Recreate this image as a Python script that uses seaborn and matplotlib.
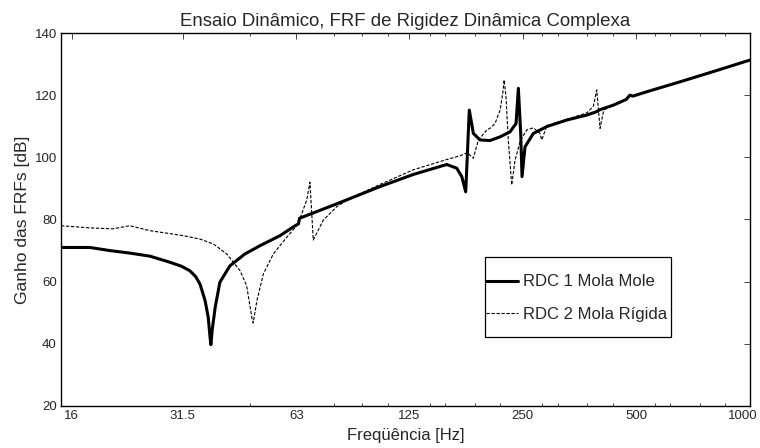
import numpy as np
import pandas as pd
import matplotlib
matplotlib.use("Agg")
import matplotlib.pyplot as plt
import matplotlib.transforms as mtransforms
from matplotlib.patches import Rectangle
import seaborn as sns
from matplotlib.ticker import FixedLocator, NullFormatter

# Curva 1: RDC 1 Mola Mole
freq_mole = [15, 17.9, 20.2, 22.8, 25.8, 29.2, 31.2, 32.9, 34.1, 35.0, 36.1, 36.8,
             37.2, 37.4, 37.7, 38.4, 39.5, 42.0, 46.0, 50.5, 57.0, 62.5, 63.8,
             64.2, 80, 104.9, 128.5, 157.5, 167.4, 172.6, 176.8, 180.7, 185.2,
             192.9, 205, 218, 231.6, 240.3, 243.7, 247.2, 249.2, 253.8, 267,
             289.8, 327.4, 369.8, 392.9, 400, 435, 470, 481, 490, 533, 653, 800,
             1000]
ganho_mole = [71.0, 71.0, 70.0, 69.2, 68.2, 66.2, 65.0, 63.5, 61.6, 59.2, 53.9, 48.5,
              42.2, 39.7, 44.5, 51.8, 59.8, 65.1, 68.9, 71.6, 74.8, 78.0, 78.6,
              80.4, 84.9, 90.6, 94.5, 97.7, 96.5, 93.8, 88.9, 115.2, 107.7,
              105.6, 105.4, 106.6, 108.2, 110.9, 122.2, 107.7, 93.8, 103.4, 107.7,
              109.9, 112.0, 113.6, 114.7, 115.3, 116.8, 118.6, 120.0, 119.7, 121.1,
              124.3, 127.6, 131.3]

# Curva 2: RDC 2 Mola Rigida
freq_rigida = [15, 17.9, 20.6, 22.8, 25.8, 28.6, 31.6, 35.0, 38.0, 41.2, 44.7, 46.5,
               48.0, 48.4, 49.5, 51.5, 54.7, 59.4, 63.1, 63.7, 67.1, 68.4, 69.8,
               74.2, 80.5, 87.3, 105, 128.5, 157.5, 170.8, 178.5, 185.2, 191, 196,
               201, 206, 211.4, 218, 221.6, 223.4, 226, 229.2, 234, 238.8, 247,
               256.5, 267, 278, 281, 290, 327, 370, 385, 392.9, 401, 410, 435,
               481, 533, 653, 800, 1000]
ganho_rigida = [78.0, 77.3, 77.0, 78.0, 76.4, 75.6, 74.8, 73.7, 72.1, 68.9, 63.5, 58.7,
                48.5, 46.7, 53.9, 62.5, 68.9, 74.3, 78.0, 78.8, 86.3, 92.0, 73.4,
                79.8, 84.1, 86.8, 91.3, 96.0, 99.3, 100.5, 101.5, 99.7, 105.6, 107.2,
                108.8, 109.5, 110.9, 115.2, 120.6, 124.9, 119.5, 105.6, 91.1, 99.1, 105.6,
                108.8, 109.5, 107.7, 105.6, 110.2, 112.2, 114.3, 116.5, 121.7, 109.3, 115.2, 116.9,
                119.4, 121.2, 124.4, 127.8, 131.3]

xticks = [16, 31.5, 63, 125, 250, 500, 1000]
xtick_labels = ["16", "31.5", "63", "125", "250", "500", "1000"]
minor_x = [47.5, 79.4, 93.8, 110, 142, 156, 187, 218, 281, 311, 370, 435,
           561, 614, 738, 859]

df1 = pd.DataFrame({"f": freq_mole, "g": ganho_mole})
df2 = pd.DataFrame({"f": freq_rigida, "g": ganho_rigida})

sns.set_style("white")
plt.rcParams["font.family"] = ["Liberation Sans", "DejaVu Sans"]

fig = plt.figure(figsize=(7.6, 4.48), dpi=100)
ax = fig.add_axes([0.0803, 0.0938, 0.9065, 0.8325])

sns.lineplot(data=df1, x="f", y="g", ax=ax, color="black", linewidth=2.2,
             estimator=None, sort=False, label="RDC 1 Mola Mole")
sns.lineplot(data=df2, x="f", y="g", ax=ax, color="black", linewidth=0.8,
             estimator=None, sort=False, label="RDC 2 Mola Rígida",
             dashes=False)
ax.lines[1].set_dashes((3, 1.5))

ax.set_xscale("log")
ax.set_xlim(15, 1000)
ax.set_ylim(20, 140)
ax.set_xticks(xticks)
ax.set_xticklabels(xtick_labels)
ax.xaxis.set_minor_locator(FixedLocator(minor_x))
ax.xaxis.set_minor_formatter(NullFormatter())
ax.set_yticks(np.arange(20, 141, 20))

ax.tick_params(axis="both", which="major", direction="in", length=4,
               width=0.6, top=True, right=True, labelsize=9.5, pad=3)
ax.tick_params(axis="x", which="minor", direction="in", length=2,
               width=0.6, top=True, bottom=True)
for s in ax.spines.values():
    s.set_color("black")
    s.set_linewidth(1.0)

# o ultimo rotulo fica colado na borda, puxa um pouco para a esquerda
last = ax.get_xticklabels()[-1]
last.set_transform(last.get_transform() +
                   mtransforms.ScaledTranslation(-5 / 72, 0, fig.dpi_scale_trans))

ax.set_title("Ensaio Dinâmico, FRF de Rigidez Dinâmica Complexa",
             fontsize=13.4, pad=5)
ax.set_xlabel("Freqüência [Hz]", fontsize=12, labelpad=4)
ax.set_ylabel("Ganho das FRFs [dB]", fontsize=12.5, labelpad=3)

# caixa da legenda
box = Rectangle((0.615, 0.184), 0.271, 0.215, transform=ax.transAxes,
                facecolor="white", edgecolor="black", linewidth=0.9, zorder=4)
ax.add_patch(box)
leg = ax.legend(loc="center left", bbox_to_anchor=(0.617, 0.289),
                fontsize=12, frameon=False, handlelength=1.9,
                handletextpad=0.3, borderaxespad=0, borderpad=0,
                labelspacing=1.05)
leg.set_zorder(5)

fig.savefig("out.png", dpi=100, facecolor="white")
